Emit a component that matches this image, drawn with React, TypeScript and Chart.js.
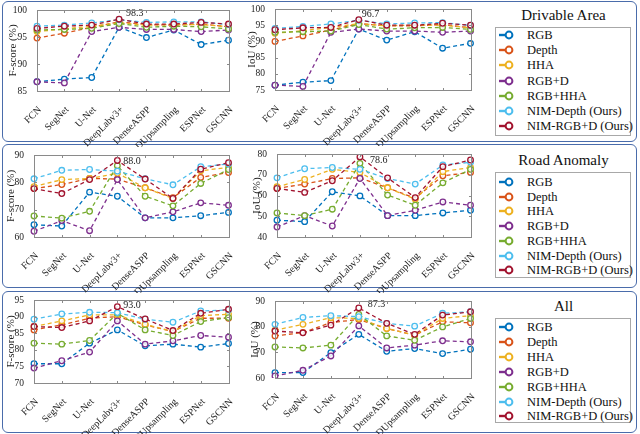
import React, { useEffect, useRef } from "react";
import { Chart, registerables } from "chart.js";
Chart.register(...registerables);

const FONT = "'Liberation Serif', 'Times New Roman', serif";

const CATS = ["FCN", "SegNet", "U-Net", "DeepLabv3+", "DenseASPP", "DUpsampling", "ESPNet", "GSCNN"];
const SERIES = ["RGB", "Depth", "HHA", "RGB+D", "RGB+HHA", "NIM-Depth (Ours)", "NIM-RGB+D (Ours)"];
const COLORS = ["#0072BD", "#D95319", "#EDB120", "#7E2F8E", "#77AC30", "#4DBEEE", "#A2142F"];

// Drivable Area – F-score (rows follow SERIES order)
const drivableF: number[][] = [
  [86.7, 87.2, 87.5, 96.8, 94.9, 96.3, 93.6, 94.4],
  [94.8, 95.7, 96.8, 97.8, 97.3, 97.2, 97.4, 96.9],
  [96.0, 96.5, 97.0, 97.6, 97.2, 97.3, 97.3, 96.9],
  [86.7, 86.5, 96.0, 96.8, 96.4, 96.4, 96.0, 96.3],
  [96.3, 96.4, 96.6, 97.5, 96.8, 97.0, 96.9, 96.5],
  [97.0, 97.2, 97.6, 98.2, 97.7, 97.8, 97.8, 97.3],
  [96.6, 97.0, 97.2, 98.3, 97.4, 97.4, 97.7, 97.4],
];
// Drivable Area – IoU
const drivableIoU: number[][] = [
  [76.5, 77.4, 77.9, 93.8, 90.4, 93.0, 87.9, 89.4],
  [90.0, 91.7, 93.5, 95.5, 94.8, 94.8, 95.2, 94.2],
  [92.5, 93.3, 94.3, 95.5, 94.8, 95.0, 95.0, 94.2],
  [76.5, 76.1, 92.8, 93.8, 93.2, 93.2, 92.8, 93.2],
  [92.8, 93.0, 93.2, 95.2, 93.8, 94.2, 94.3, 93.7],
  [94.0, 94.6, 95.4, 96.5, 95.4, 95.7, 95.8, 94.9],
  [93.6, 94.2, 94.3, 96.7, 95.0, 95.0, 95.6, 95.0],
];
// Road Anomaly – F-score
const anomalyF: number[][] = [
  [64.5, 64.0, 76.4, 74.9, 67.0, 67.0, 67.8, 69.0],
  [77.7, 79.2, 81.4, 81.2, 78.0, 74.4, 81.8, 83.6],
  [78.4, 81.0, 81.4, 83.3, 78.0, 74.1, 84.2, 85.5],
  [62.1, 66.0, 62.3, 81.0, 67.0, 69.2, 72.5, 71.6],
  [67.7, 66.9, 69.4, 86.1, 74.9, 71.4, 79.6, 84.7],
  [81.3, 84.4, 84.7, 84.1, 81.3, 79.1, 85.7, 86.7],
  [77.7, 75.9, 81.0, 88.0, 81.2, 74.1, 84.8, 87.2],
];
// Road Anomaly – IoU
const anomalyIoU: number[][] = [
  [48.1, 47.4, 61.8, 59.8, 50.3, 50.3, 51.6, 52.9],
  [63.4, 65.5, 68.2, 68.5, 63.7, 58.7, 69.5, 71.1],
  [64.2, 67.7, 72.6, 71.1, 63.7, 58.2, 71.5, 73.5],
  [44.8, 50.3, 45.3, 68.2, 50.3, 52.9, 56.9, 55.3],
  [51.6, 50.3, 53.4, 75.5, 60.2, 55.3, 66.1, 72.6],
  [68.5, 72.9, 73.5, 72.6, 68.2, 65.5, 74.7, 76.0],
  [63.4, 61.5, 67.1, 78.6, 68.5, 59.0, 73.9, 77.1],
];
// All – F-score
const allF: number[][] = [
  [75.8, 75.8, 82.0, 86.0, 81.2, 81.7, 80.8, 81.9],
  [86.0, 87.5, 89.5, 90.0, 87.5, 85.5, 89.5, 89.5],
  [87.0, 88.7, 90.5, 90.5, 87.7, 85.5, 90.3, 90.7],
  [74.5, 76.7, 79.3, 88.7, 81.7, 82.7, 84.3, 83.8],
  [82.0, 81.7, 82.8, 91.0, 86.0, 84.3, 88.5, 89.7],
  [89.2, 90.8, 91.3, 91.2, 89.2, 88.3, 91.7, 92.0],
  [87.0, 86.7, 88.7, 93.0, 89.3, 85.8, 91.0, 92.2],
];
// All – IoU
const allIoU: number[][] = [
  [62.1, 62.1, 69.9, 77.0, 70.4, 71.5, 69.5, 71.2],
  [76.4, 77.7, 81.6, 82.8, 79.3, 76.7, 81.9, 81.5],
  [78.6, 80.9, 83.5, 83.2, 79.3, 76.7, 83.2, 84.3],
  [60.8, 63.0, 68.6, 80.3, 71.7, 72.8, 74.5, 74.1],
  [72.1, 71.7, 72.8, 84.8, 76.4, 74.7, 79.9, 83.2],
  [80.9, 83.6, 84.3, 83.9, 81.3, 80.2, 85.2, 85.8],
  [78.3, 77.6, 80.6, 87.3, 81.3, 77.0, 84.5, 85.8],
];

const peakLabels = ["98.3", "96.7", "88.0", "78.6", "93.0", "87.3"];
const yRanges = [
  [85, 100, 5],
  [75, 100, 5],
  [60, 90, 10],
  [40, 80, 10],
  [70, 95, 5],
  [60, 90, 10],
];

type Spec = {
  data: number[][];
  title: string;
  range: number[];
  peak: string;
  L: number; R: number; T: number; B: number;
  dx: number; dy: number; tx: number;
};

const specs: Spec[] = [
  { data: drivableF, title: "F-score (%)", range: yRanges[0], peak: peakLabels[0], L: 37, R: 236, T: 10, B: 91, dx: 7, dy: -6, tx: 24 },
  { data: drivableIoU, title: "IoU (%)", range: yRanges[1], peak: peakLabels[1], L: 275, R: 478, T: 9, B: 90, dx: 3, dy: -5, tx: 23 },
  { data: anomalyF, title: "F-score (%)", range: yRanges[2], peak: peakLabels[2], L: 34, R: 236, T: 155, B: 237, dx: 6, dy: 1, tx: 23 },
  { data: anomalyIoU, title: "IoU (%)", range: yRanges[3], peak: peakLabels[3], L: 277, R: 478, T: 154, B: 237, dx: 10, dy: 3, tx: 20 },
  { data: allF, title: "F-score (%)", range: yRanges[4], peak: peakLabels[4], L: 34, R: 236, T: 300, B: 383, dx: 6, dy: -1, tx: 23 },
  { data: allIoU, title: "IoU (%)", range: yRanges[5], peak: peakLabels[5], L: 275, R: 478, T: 301, B: 378, dx: 9, dy: -4, tx: 20 },
];

const YW = 34, PT = 8, PR = 6, XH = 56;
const TITLE_SIZE = 11;

const boxPlugin = {
  id: "boxFrame",
  afterDraw(chart: any) {
    const { ctx, chartArea: a } = chart;
    const l = Math.round(a.left) + 0.5, t = Math.round(a.top) + 0.5;
    const r = Math.round(a.right) + 0.5, b = Math.round(a.bottom) + 0.5;
    ctx.save();
    ctx.strokeStyle = "#8a8a8a";
    ctx.lineWidth = 1;
    ctx.strokeRect(l, t, r - l, b - t);
    ctx.beginPath();
    const xs = chart.scales.x;
    xs.ticks.forEach((_: any, i: number) => {
      const x = Math.round(xs.getPixelForTick(i)) + 0.5;
      ctx.moveTo(x, b); ctx.lineTo(x, b - 2.5);
      ctx.moveTo(x, t); ctx.lineTo(x, t + 2.5);
    });
    const ys = chart.scales.y;
    ys.ticks.forEach((_: any, i: number) => {
      const y = Math.round(ys.getPixelForTick(i)) + 0.5;
      ctx.moveTo(l, y); ctx.lineTo(l + 2.5, y);
      ctx.moveTo(r, y); ctx.lineTo(r - 2.5, y);
    });
    ctx.stroke();
    ctx.restore();
  },
};

function LineChart({ spec }: { spec: Spec }) {
  const ref = useRef<HTMLCanvasElement>(null);
  const left = spec.L - YW;
  const top = spec.T - PT;
  const width = spec.R - left + PR;
  const height = spec.B - top + XH;
  useEffect(() => {
    const peakPlugin = {
      id: "peakLabel",
      afterDatasetsDraw(chart: any) {
        const ds = spec.data;
        let bi = 0, bj = 0, bv = -Infinity;
        ds.forEach((row, i) => row.forEach((v, j) => { if (v > bv) { bv = v; bi = i; bj = j; } }));
        const pt = chart.getDatasetMeta(bi).data[bj];
        const ctx = chart.ctx;
        ctx.save();
        ctx.font = `10px ${FONT}`;
        ctx.fillStyle = "#222";
        ctx.textBaseline = "middle";
        ctx.textAlign = "left";
        ctx.fillText(spec.peak, pt.x + spec.dx, pt.y + spec.dy);
        ctx.restore();
      },
    };
    const titlePad = Math.max(0, YW - spec.tx - (TITLE_SIZE * 1.2) / 2);
    const chart = new Chart(ref.current!, {
      type: "line",
      data: {
        labels: CATS,
        datasets: spec.data.map((vals, i) => ({
          label: SERIES[i],
          data: vals,
          borderColor: COLORS[i],
          backgroundColor: "#ffffff",
          borderWidth: 1.3,
          borderDash: [4, 3],
          pointRadius: 2.8,
          pointBorderWidth: 1.3,
          pointBackgroundColor: "rgba(255,255,255,0.85)",
          pointBorderColor: COLORS[i],
          tension: 0,
          order: 7 - i,
        })),
      },
      options: {
        responsive: false,
        animation: false,
        devicePixelRatio: 1,
        layout: { padding: { left: 0, right: PR, top: PT, bottom: 0 } },
        plugins: { legend: { display: false }, tooltip: { enabled: false } },
        scales: {
          x: {
            type: "category",
            offset: false,
            grid: { display: false },
            border: { display: false },
            ticks: { autoSkip: false, maxRotation: 45, minRotation: 45, font: { family: FONT, size: 10 }, color: "#222", padding: 5, labelOffset: 3 },
            afterFit: (s: any) => { s.height = XH; },
          },
          y: {
            min: spec.range[0],
            max: spec.range[1],
            grid: { display: false },
            border: { display: false },
            ticks: { stepSize: spec.range[2], font: { family: FONT, size: 9.5 }, color: "#222", padding: 2 },
            title: { display: true, text: spec.title, font: { family: FONT, size: TITLE_SIZE }, color: "#222", padding: { top: titlePad, bottom: 0 } },
            afterFit: (s: any) => { s.width = YW; },
          },
        },
      } as any,
      plugins: [boxPlugin, peakPlugin],
    });
    return () => chart.destroy();
  }, []);
  return <canvas ref={ref} width={width} height={height} style={{ position: "absolute", left, top, width, height }} />;
}

function LegendIcon({ color }: { color: string }) {
  return (
    <svg width={16} height={12} style={{ position: "absolute", left: 0, top: -6 }}>
      <line x1={0} y1={6} x2={7} y2={6} stroke={color} strokeWidth={2.4} />
      <circle cx={10} cy={6} r={3.4} fill="#fff" stroke={color} strokeWidth={2} />
    </svg>
  );
}

function Legend({ title, titleY, boxTop, boxBottom, rowY0, rowStep }: { title: string; titleY: number; boxTop: number; boxBottom: number; rowY0: number; rowStep: number }) {
  return (
    <>
      <div style={{ position: "absolute", left: 495, width: 137, top: titleY - 10, height: 20, lineHeight: "20px", textAlign: "center", fontFamily: FONT, fontSize: 15, color: "#111" }}>{title}</div>
      <div style={{ position: "absolute", left: 495, top: boxTop, width: 136, height: boxBottom - boxTop, border: "1px solid #a8a8a8", boxSizing: "border-box", background: "#fff" }} />
      {SERIES.map((s, i) => (
        <div key={s} style={{ position: "absolute", left: 499, top: rowY0 + i * rowStep, height: 0 }}>
          <LegendIcon color={COLORS[i]} />
          <div style={{ position: "absolute", left: 28, top: -8, height: 16, lineHeight: "16px", whiteSpace: "nowrap", fontFamily: FONT, fontSize: 12.5, color: "#111" }}>{s}</div>
        </div>
      ))}
    </>
  );
}

function Panel({ top, bottom }: { top: number; bottom: number }) {
  return <div style={{ position: "absolute", left: 2, top, width: 635, height: bottom - top, border: "1.5px solid #4a6cab", borderRadius: 6, boxSizing: "border-box" }} />;
}

export default function App() {
  return (
    <div style={{ position: "fixed", left: 0, top: 0, width: 640, height: 434, background: "#fff", overflow: "hidden" }}>
      <Panel top={1} bottom={142} />
      <Panel top={144} bottom={288} />
      <Panel top={291} bottom={433} />
      <Legend title="Drivable Area" titleY={15} boxTop={27} boxBottom={136} rowY0={35} rowStep={15.2} />
      <Legend title="Road Anomaly" titleY={160} boxTop={172} boxBottom={278} rowY0={182} rowStep={14.7} />
      <Legend title="All" titleY={306} boxTop={318} boxBottom={423} rowY0={327} rowStep={14.9} />
      {specs.map((s, i) => <LineChart key={i} spec={s} />)}
    </div>
  );
}
